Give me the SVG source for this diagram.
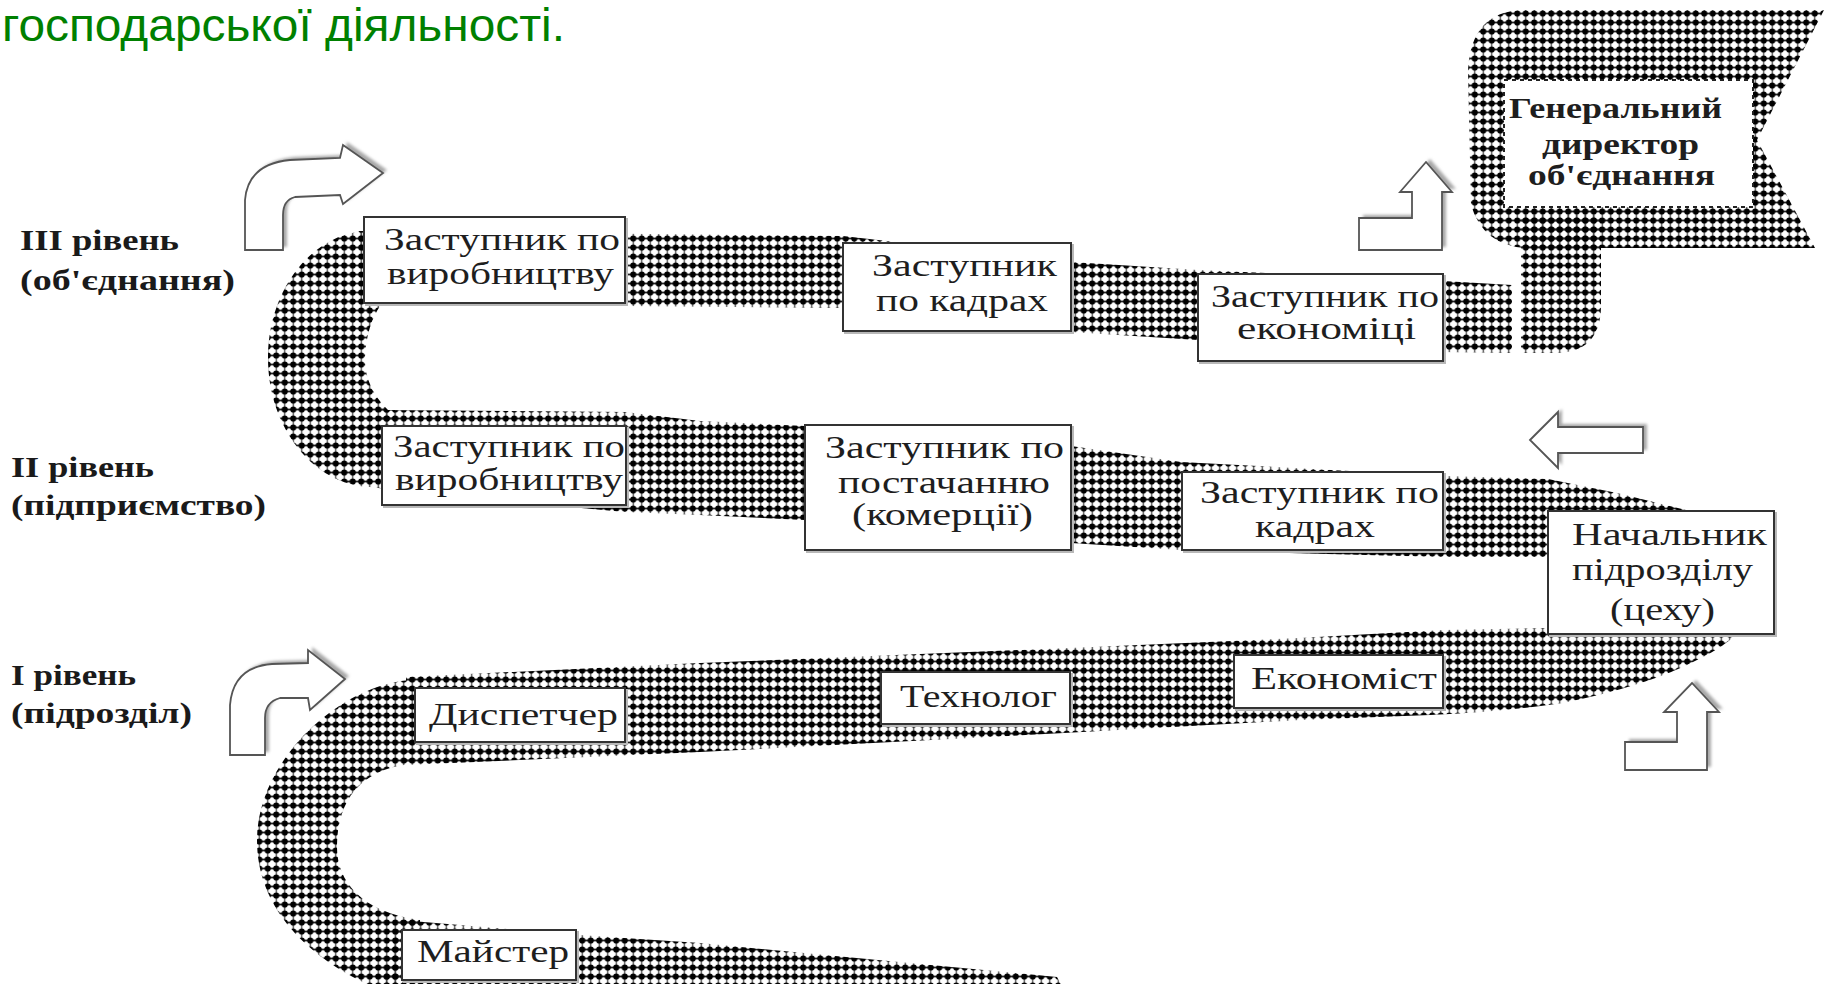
<svg xmlns="http://www.w3.org/2000/svg" width="1842" height="984" viewBox="0 0 1842 984">
<style>
.ttl{font-family:"Liberation Sans",Arial,sans-serif;font-size:46px;fill:#008000}
.lv{font-family:"Liberation Serif","Times New Roman",serif;font-size:29px;font-weight:bold;fill:#1a1a1a}
.t{font-family:"Liberation Serif","Times New Roman",serif;font-size:31px;fill:#1e1e1e}
.tb{font-family:"Liberation Serif","Times New Roman",serif;font-size:29px;font-weight:bold;fill:#1e1e1e}
.band{fill:url(#ht)}
.box{fill:#fff;stroke:#333;stroke-width:2}
.bsh{fill:none;stroke:#b8b8b8;stroke-width:2}
.arw{fill:#fff;stroke:#555;stroke-width:1.8;stroke-linejoin:miter}
.ash{fill:#a8a8a8;filter:url(#blur)}
</style>
<defs>
<pattern id="ht" patternUnits="userSpaceOnUse" width="8.5" height="9">
<path d="M0 4.5H8.5" stroke="#222" stroke-width="1.8"/>
<path d="M4.25 0V9" stroke="#444" stroke-width="1.3"/>
<circle cx="4.25" cy="4.5" r="3.1" fill="#000"/>
</pattern>
<filter id="blur" x="-10%" y="-10%" width="120%" height="120%"><feGaussianBlur stdDeviation="1.4"/></filter>
</defs>
<rect width="1842" height="984" fill="#fff"/>

<text class="ttl" x="2" y="41" textLength="563" lengthAdjust="spacingAndGlyphs">господарської діяльності.</text>

<g id="band">
<path class="band" d="M1468 70 Q1471 12 1522 10 L1824 10 L1757 140 L1815 248 L1525 248 Q1483 245 1471 205 Z"/>
<path class="band" d="M1521 215 L1601 215 L1601 305 Q1601 353 1555 353 L1521 353 Z"/>
<path class="band" d="M357 231 L843 236 L1071 262 L1198 270 L1443 281 L1512 285 L1512 353 L1443 352 L1198 340 L1071 332 L843 308 L625 306 L372 306 Z"/>
<path class="band" d="M370 231 C314 231 268 288 268 358 C268 428 314 485 370 487 L395 490 L395 410 L388 410 C372 395 364 375 365 357 C366 335 372 318 380 306 L395 306 L395 231 Z"/>
<path class="band" d="M380 410 L625 412 L700 421 L805 426 L1071 446 L1181 462 L1443 476 L1548 479 L1617 493 L1690 511 L1700 560 L1600 600 L1548 557 L1443 557 L1181 550 L1071 543 L805 520 L700 515 L625 512 L383 490 Z"/>
<path class="band" d="M1560 600 L1740 600 L1740 630 Q1728 645 1697 660 Q1650 685 1563 703 Q1500 712 1430 715 L1300 720 L1064 733 L700 752 L406 765 L406 677 L700 663 L1093 647 L1300 638 L1443 630 L1548 628 Z"/>
<path class="band" d="M410 680 C340 685 257 760 257 840 C257 910 310 960 380 990 L420 990 L420 920 C360 912 336 880 337 845 C338 800 360 770 410 764 Z"/>
<path class="band" d="M400 920 L579 935 L700 943 L846 957 L1057 977 L1064 990 L380 990 Z"/>
</g>

<g id="node-gen-dir">
<rect x="1504" y="80" width="249" height="127" fill="#fff" stroke="#222" stroke-width="2" stroke-dasharray="4 4"/>
<text class="tb" x="1509" y="118" textLength="213" lengthAdjust="spacingAndGlyphs">Генеральний</text>
<text class="tb" x="1542" y="154" textLength="157" lengthAdjust="spacingAndGlyphs">директор</text>
<text class="tb" x="1528" y="185" textLength="187" lengthAdjust="spacingAndGlyphs">об'єднання</text>
</g>

<g id="node-3-vyrob">
<rect class="bsh" x="366" y="219" width="261" height="86"/>
<rect class="box" x="364" y="217" width="261" height="86"/>
<text class="t" x="384" y="250" textLength="236" lengthAdjust="spacingAndGlyphs">Заступник по</text>
<text class="t" x="387" y="284" textLength="227" lengthAdjust="spacingAndGlyphs">виробництву</text>
</g>
<g id="node-3-kadry">
<rect class="bsh" x="845" y="245" width="228" height="88"/>
<rect class="box" x="843" y="243" width="228" height="88"/>
<text class="t" x="872" y="276" textLength="185" lengthAdjust="spacingAndGlyphs">Заступник</text>
<text class="t" x="876" y="311" textLength="172" lengthAdjust="spacingAndGlyphs">по кадрах</text>
</g>
<g id="node-3-econ">
<rect class="bsh" x="1200" y="276" width="245" height="87"/>
<rect class="box" x="1198" y="274" width="245" height="87"/>
<text class="t" x="1211" y="307" textLength="228" lengthAdjust="spacingAndGlyphs">Заступник по</text>
<text class="t" x="1237" y="339" textLength="179" lengthAdjust="spacingAndGlyphs">економіці</text>
</g>

<g id="node-2-vyrob">
<rect class="bsh" x="384" y="428" width="244" height="79"/>
<rect class="box" x="382" y="426" width="244" height="79"/>
<text class="t" x="393" y="457" textLength="232" lengthAdjust="spacingAndGlyphs">Заступник по</text>
<text class="t" x="395" y="490" textLength="228" lengthAdjust="spacingAndGlyphs">виробництву</text>
</g>
<g id="node-2-postach">
<rect class="bsh" x="807" y="427" width="266" height="125"/>
<rect class="box" x="805" y="425" width="266" height="125"/>
<text class="t" x="825" y="458" textLength="239" lengthAdjust="spacingAndGlyphs">Заступник по</text>
<text class="t" x="838" y="493" textLength="212" lengthAdjust="spacingAndGlyphs">постачанню</text>
<text class="t" x="852" y="525" textLength="181" lengthAdjust="spacingAndGlyphs">(комерції)</text>
</g>
<g id="node-2-kadry">
<rect class="bsh" x="1184" y="474" width="261" height="78"/>
<rect class="box" x="1182" y="472" width="261" height="78"/>
<text class="t" x="1200" y="503" textLength="239" lengthAdjust="spacingAndGlyphs">Заступник по</text>
<text class="t" x="1255" y="537" textLength="120" lengthAdjust="spacingAndGlyphs">кадрах</text>
</g>
<g id="node-nach">
<rect class="bsh" x="1550" y="513" width="226" height="123"/>
<rect class="box" x="1548" y="511" width="226" height="123"/>
<text class="t" x="1572" y="545" textLength="195" lengthAdjust="spacingAndGlyphs">Начальник</text>
<text class="t" x="1572" y="580" textLength="181" lengthAdjust="spacingAndGlyphs">підрозділу</text>
<text class="t" x="1610" y="620" textLength="105" lengthAdjust="spacingAndGlyphs">(цеху)</text>
</g>

<g id="node-disp">
<rect class="bsh" x="417" y="690" width="210" height="54"/>
<rect class="box" x="415" y="688" width="210" height="54"/>
<text class="t" x="429" y="725" textLength="189" lengthAdjust="spacingAndGlyphs">Диспетчер</text>
</g>
<g id="node-tekh">
<rect class="bsh" x="883" y="674" width="189" height="52"/>
<rect class="box" x="881" y="672" width="189" height="52"/>
<text class="t" x="900" y="707" textLength="157" lengthAdjust="spacingAndGlyphs">Технолог</text>
</g>
<g id="node-econ">
<rect class="bsh" x="1236" y="657" width="209" height="53"/>
<rect class="box" x="1234" y="655" width="209" height="53"/>
<text class="t" x="1251" y="689" textLength="186" lengthAdjust="spacingAndGlyphs">Економіст</text>
</g>
<g id="node-maister">
<rect class="bsh" x="404" y="932" width="174" height="50"/>
<rect class="box" x="402" y="930" width="174" height="50"/>
<text class="t" x="417" y="962" textLength="152" lengthAdjust="spacingAndGlyphs">Майстер</text>
</g>

<g id="connectors">
<g transform="translate(4,-3)">
<path class="ash" d="M245 250 L245 200 Q248 164 290 160 L340 158 L343 145 L383 173 L343 204 L340 195 L295 197 Q283 200 283 215 L283 250 Z"/>
<path class="ash" d="M1359 250 L1359 218 L1412 218 L1412 192 L1400 192 L1426 162 L1452 192 L1442 192 L1442 250 Z"/>
<path class="ash" d="M1530 440 L1558 412 L1558 427 L1643 427 L1643 453 L1558 453 L1558 468 Z"/>
<path class="ash" d="M1625 770 L1625 742 L1677 742 L1677 712 L1664 712 L1692 683 L1719 712 L1707 712 L1707 770 Z"/>
<path class="ash" d="M230 755 L230 705 Q233 667 272 664 L308 663 L308 650 L345 679 L310 710 L308 698 L280 698 Q265 702 265 718 L265 755 Z"/>
</g>
<path class="arw" d="M245 250 L245 200 Q248 164 290 160 L340 158 L343 145 L383 173 L343 204 L340 195 L295 197 Q283 200 283 215 L283 250 Z"/>
<path class="arw" d="M1359 250 L1359 218 L1412 218 L1412 192 L1400 192 L1426 162 L1452 192 L1442 192 L1442 250 Z"/>
<path class="arw" d="M1530 440 L1558 412 L1558 427 L1643 427 L1643 453 L1558 453 L1558 468 Z"/>
<path class="arw" d="M1625 770 L1625 742 L1677 742 L1677 712 L1664 712 L1692 683 L1719 712 L1707 712 L1707 770 Z"/>
<path class="arw" d="M230 755 L230 705 Q233 667 272 664 L308 663 L308 650 L345 679 L310 710 L308 698 L280 698 Q265 702 265 718 L265 755 Z"/>
</g>

<g id="levels">
<text class="lv" x="20" y="250" textLength="159" lengthAdjust="spacingAndGlyphs">III рівень</text>
<text class="lv" x="20" y="290" textLength="215" lengthAdjust="spacingAndGlyphs">(об'єднання)</text>
<text class="lv" x="11" y="477" textLength="143" lengthAdjust="spacingAndGlyphs">II рівень</text>
<text class="lv" x="11" y="515" textLength="255" lengthAdjust="spacingAndGlyphs">(підприємство)</text>
<text class="lv" x="11" y="685" textLength="125" lengthAdjust="spacingAndGlyphs">I рівень</text>
<text class="lv" x="11" y="723" textLength="181" lengthAdjust="spacingAndGlyphs">(підрозділ)</text>
</g>
</svg>
